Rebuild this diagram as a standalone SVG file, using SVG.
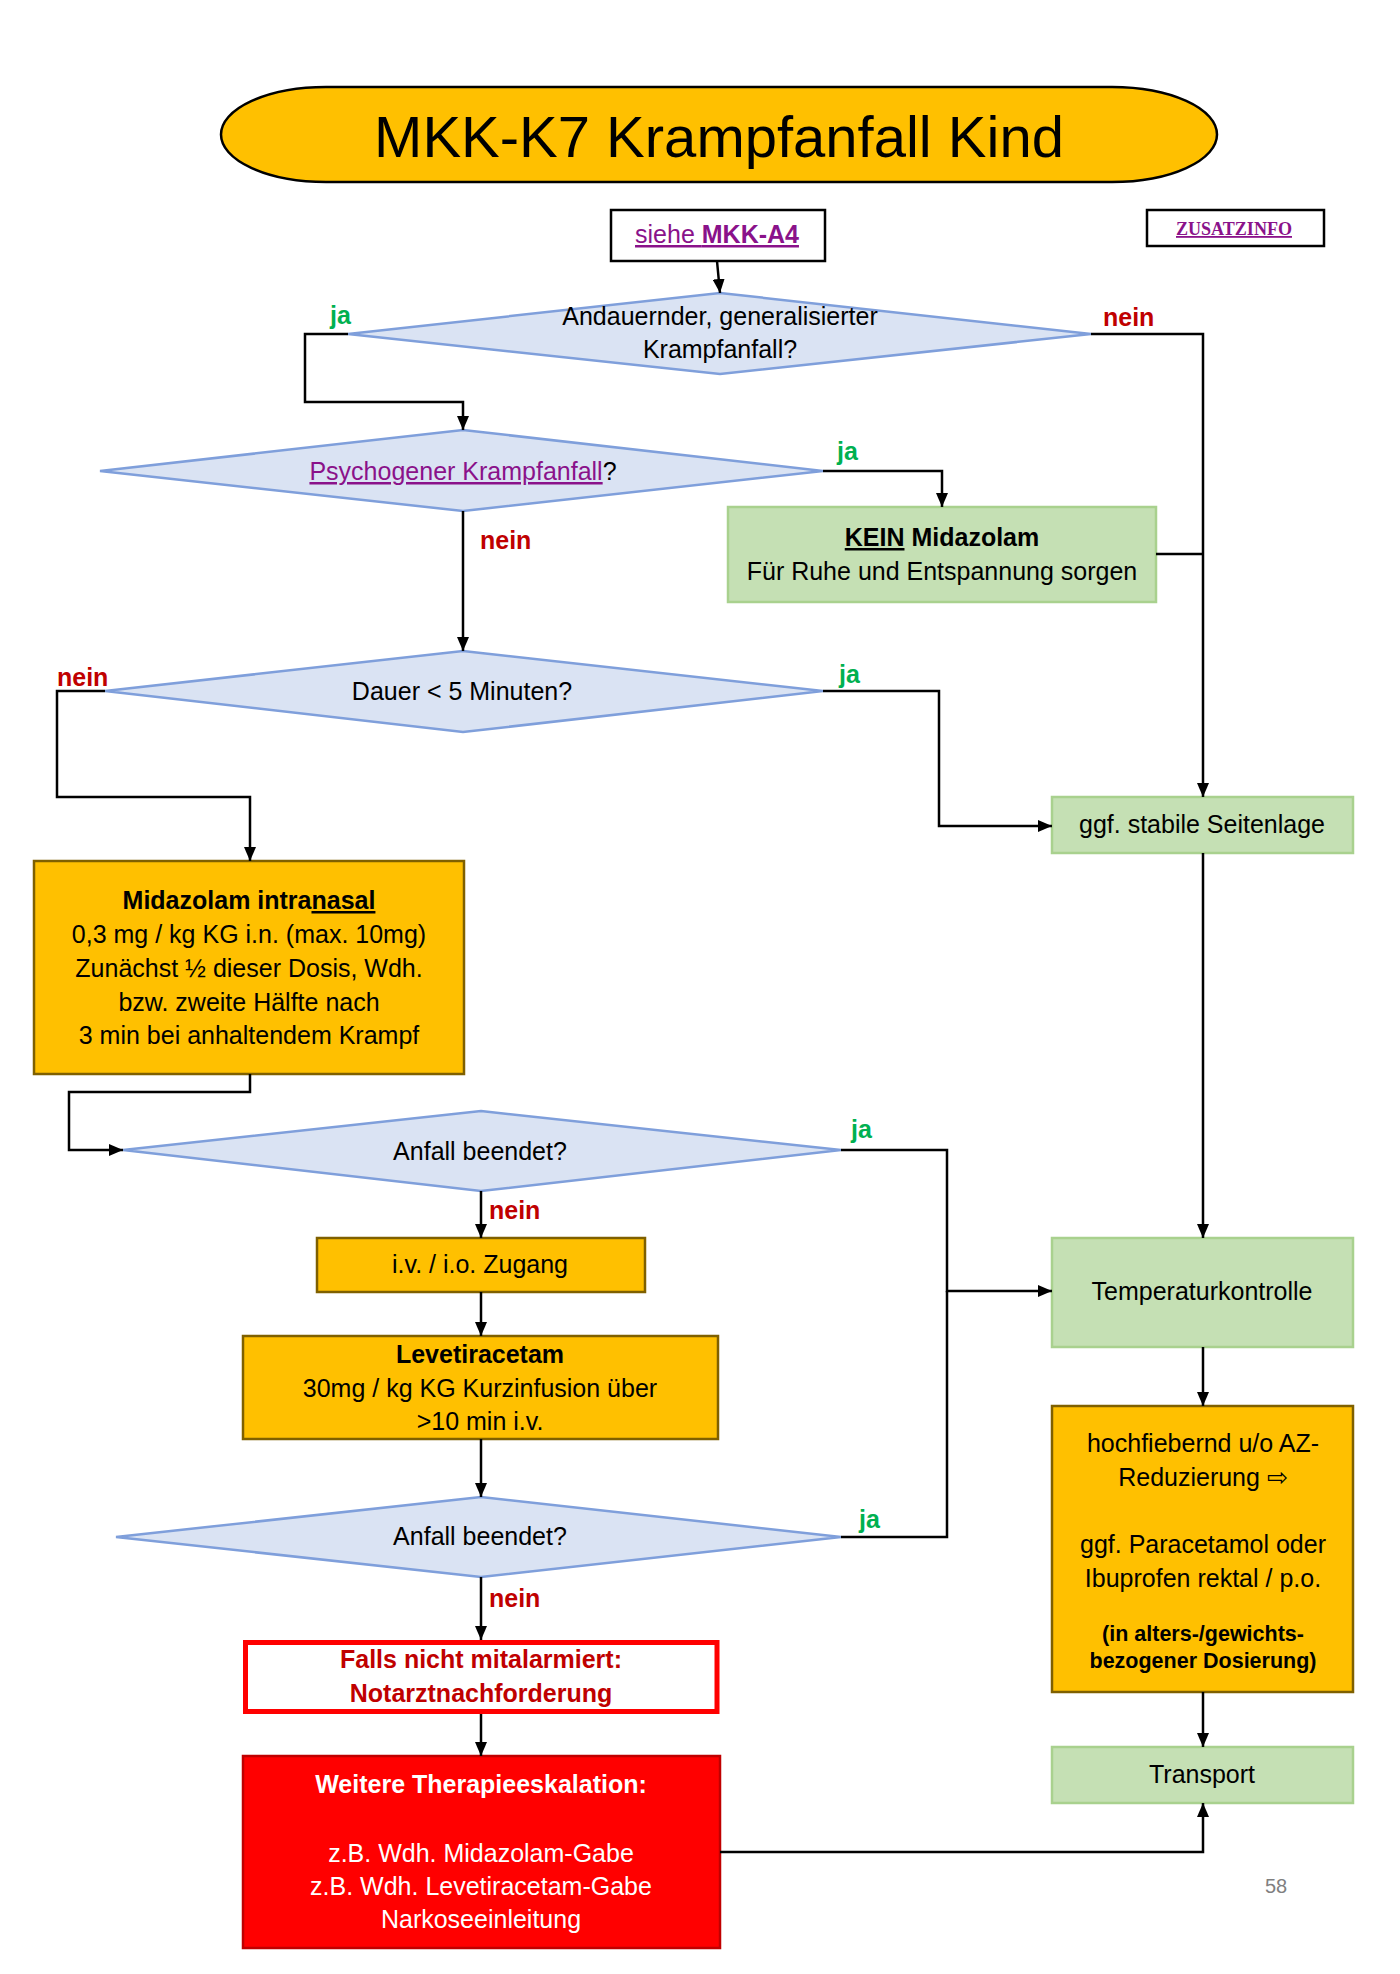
<svg xmlns="http://www.w3.org/2000/svg" width="1400" height="1974" viewBox="0 0 1400 1974">
<defs>
<style>
text{font-family:"Liberation Sans","DejaVu Sans",sans-serif;font-size:25px;fill:#000;text-anchor:middle}
.b{font-weight:bold}
.u{text-decoration:underline}
.lnk{fill:#8A128A}
.ja{fill:#00B050;font-weight:bold;text-anchor:start}
.nein{fill:#C00000;font-weight:bold;text-anchor:start}
.dia{fill:#DAE3F3;stroke:#7F9FDB;stroke-width:2.5}
.grn{fill:#C5E0B4;stroke:#A9D18E;stroke-width:2.5}
.org{fill:#FFC000;stroke:#7F6000;stroke-width:2.5}
.conn path{fill:none;stroke:#000;stroke-width:2.5}
.ar{marker-end:url(#ah)}
</style>
<marker id="ah" viewBox="0 0 14 12" refX="14" refY="6" markerWidth="14" markerHeight="12" markerUnits="userSpaceOnUse" orient="auto">
<path d="M0,0 L14,6 L0,12 z" fill="#000"/>
</marker>
</defs>
<rect width="1400" height="1974" fill="#fff"/>

<g id="title">
<rect x="221" y="87" width="996" height="95" rx="105" ry="47.5" fill="#FFC000" stroke="#000" stroke-width="2.5"/>
<text x="719" y="157" style="font-size:58px">MKK-K7 Krampfanfall Kind</text>
</g>

<g id="siehe">
<rect x="611" y="210" width="214" height="51" fill="#fff" stroke="#000" stroke-width="2.5"/>
<text x="717" y="243" class="lnk u"><tspan>siehe </tspan><tspan class="b">MKK-A4</tspan></text>
</g>

<g id="zusatzinfo">
<rect x="1147" y="210" width="177" height="36" fill="#fff" stroke="#000" stroke-width="2.5"/>
<text x="1234" y="235" class="lnk u b" style="font-family:'Liberation Serif','DejaVu Serif',serif;font-size:18px" textLength="116" lengthAdjust="spacingAndGlyphs">ZUSATZINFO</text>
</g>

<g id="d1">
<polygon class="dia" points="720,293 1091,334 720,374 348,334"/>
<text x="720" y="325">Andauernder, generalisierter</text>
<text x="720" y="358">Krampfanfall?</text>
</g>

<g id="d2">
<polygon class="dia" points="463,430 823,471 463,511 100,471"/>
<text x="463" y="480"><tspan class="lnk u">Psychogener Krampfanfall</tspan>?</text>
</g>

<g id="kein">
<rect class="grn" x="728" y="507" width="428" height="95"/>
<text x="942" y="546" class="b"><tspan class="u">KEIN</tspan> Midazolam</text>
<text x="942" y="580">Für Ruhe und Entspannung sorgen</text>
</g>

<g id="d3">
<polygon class="dia" points="463,651 823,691 463,732 105,691"/>
<text x="462" y="700">Dauer &lt; 5 Minuten?</text>
</g>

<g id="seitenlage">
<rect class="grn" x="1052" y="797" width="301" height="56"/>
<text x="1202" y="833">ggf. stabile Seitenlage</text>
</g>

<g id="midazolam">
<rect class="org" x="34" y="861" width="430" height="213"/>
<text x="249" y="909" class="b">Midazolam intra<tspan class="u">nasal</tspan></text>
<text x="249" y="943">0,3 mg / kg KG i.n. (max. 10mg)</text>
<text x="249" y="977">Zunächst ½ dieser Dosis, Wdh.</text>
<text x="249" y="1011">bzw. zweite Hälfte nach</text>
<text x="249" y="1044">3 min bei anhaltendem Krampf</text>
</g>

<g id="d4">
<polygon class="dia" points="481,1111 841,1150 481,1191 123,1150"/>
<text x="480" y="1160">Anfall beendet?</text>
</g>

<g id="zugang">
<rect class="org" x="317" y="1238" width="328" height="54"/>
<text x="480" y="1273">i.v. / i.o. Zugang</text>
</g>

<g id="levetiracetam">
<rect class="org" x="243" y="1336" width="475" height="103"/>
<text x="480" y="1363" class="b">Levetiracetam</text>
<text x="480" y="1397">30mg / kg KG Kurzinfusion über</text>
<text x="480" y="1430">&gt;10 min i.v.</text>
</g>

<g id="d5">
<polygon class="dia" points="481,1497 841,1537 481,1577 116,1537"/>
<text x="480" y="1545">Anfall beendet?</text>
</g>

<g id="notarzt">
<rect x="245.5" y="1642.5" width="471.5" height="69" fill="#fff" stroke="#FF0000" stroke-width="5"/>
<text x="481" y="1668" class="b" style="fill:#C00000">Falls nicht mitalarmiert:</text>
<text x="481" y="1702" class="b" style="fill:#C00000">Notarztnachforderung</text>
</g>

<g id="eskalation">
<rect x="243" y="1756" width="477" height="192" fill="#FF0000" stroke="#C00000" stroke-width="2.5"/>
<text x="481" y="1793" class="b" style="fill:#fff">Weitere Therapieeskalation:</text>
<text x="481" y="1862" style="fill:#fff">z.B. Wdh. Midazolam-Gabe</text>
<text x="481" y="1895" style="fill:#fff">z.B. Wdh. Levetiracetam-Gabe</text>
<text x="481" y="1928" style="fill:#fff">Narkoseeinleitung</text>
</g>

<g id="temperatur">
<rect class="grn" x="1052" y="1238" width="301" height="109"/>
<text x="1202" y="1300">Temperaturkontrolle</text>
</g>

<g id="fieber">
<rect class="org" x="1052" y="1406" width="301" height="286"/>
<text x="1203" y="1452">hochfiebernd u/o AZ-</text>
<text x="1203" y="1486">Reduzierung ⇨</text>
<text x="1203" y="1553">ggf. Paracetamol oder</text>
<text x="1203" y="1587">Ibuprofen rektal / p.o.</text>
<text x="1203" y="1641" class="b" style="font-size:21.5px">(in alters-/gewichts-</text>
<text x="1203" y="1668" class="b" style="font-size:21.5px">bezogener Dosierung)</text>
</g>

<g id="transport">
<rect class="grn" x="1052" y="1747" width="301" height="56"/>
<text x="1202" y="1783">Transport</text>
</g>

<g id="labels">
<text x="330" y="324" class="ja">ja</text>
<text x="1103" y="326" class="nein">nein</text>
<text x="837" y="460" class="ja">ja</text>
<text x="480" y="549" class="nein">nein</text>
<text x="57" y="686" class="nein">nein</text>
<text x="839" y="683" class="ja">ja</text>
<text x="851" y="1138" class="ja">ja</text>
<text x="489" y="1219" class="nein">nein</text>
<text x="859" y="1528" class="ja">ja</text>
<text x="489" y="1607" class="nein">nein</text>
</g>

<g class="conn" id="connectors">
<path class="ar" d="M717,261 L720,293"/>
<path class="ar" d="M348,334 H305 V402 H463 V430"/>
<path class="ar" d="M1091,334 H1203 V797"/>
<path class="ar" d="M823,471 H942 V507"/>
<path d="M1156,554 H1203"/>
<path class="ar" d="M463,511 V651"/>
<path class="ar" d="M105,691 H57 V797 H250 V861"/>
<path class="ar" d="M823,691 H939 V826 H1052"/>
<path class="ar" d="M250,1074 V1092 H69 V1150 H123"/>
<path class="ar" d="M841,1150 H947 V1291 H1052"/>
<path d="M841,1537 H947 V1291"/>
<path class="ar" d="M481,1191 V1238"/>
<path class="ar" d="M481,1292 V1336"/>
<path class="ar" d="M481,1439 V1497"/>
<path class="ar" d="M481,1577 V1640"/>
<path class="ar" d="M481,1714 V1756"/>
<path class="ar" d="M720,1852 H1203 V1803"/>
<path class="ar" d="M1203,853 V1238"/>
<path class="ar" d="M1203,1347 V1406"/>
<path class="ar" d="M1203,1692 V1747"/>
</g>

<text x="1265" y="1893" style="text-anchor:start;font-size:20px;fill:#808080">58</text>
</svg>
